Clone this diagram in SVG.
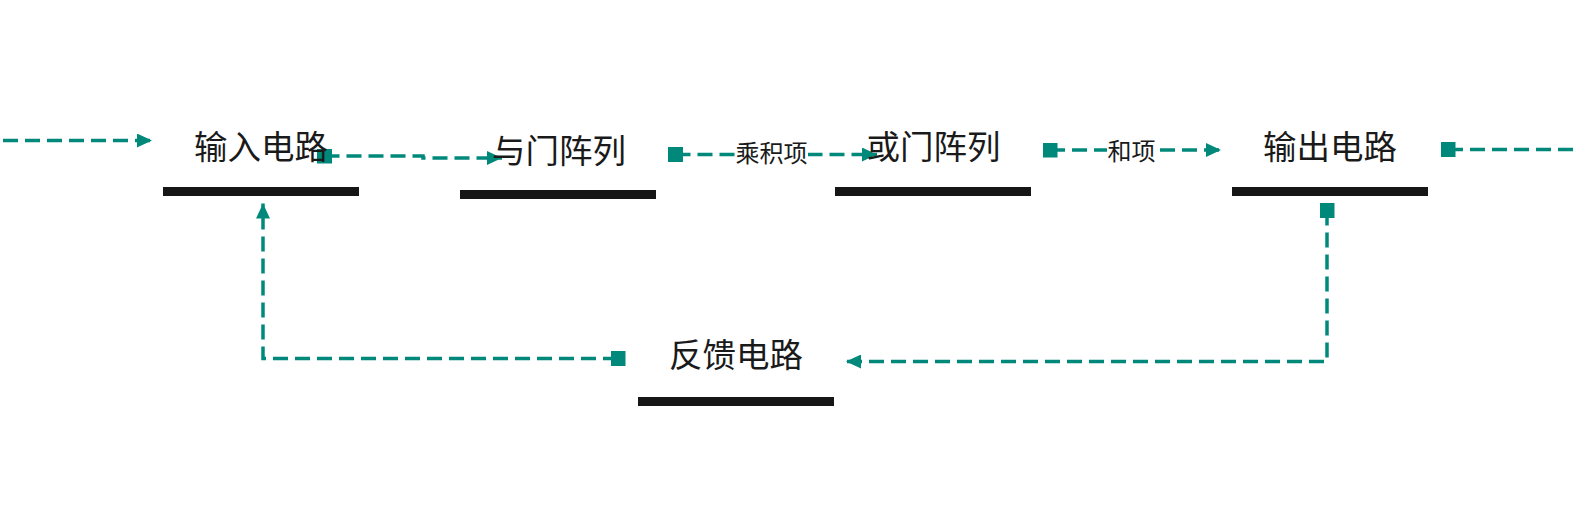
<svg xmlns="http://www.w3.org/2000/svg" width="1579" height="518" viewBox="0 0 1579 518">
<defs>
<style>
.bar{fill:#161616}
.nt{font-family:"Noto Sans CJK SC","Noto Sans",sans-serif;font-size:33.5px;fill:#1a1a1a;text-anchor:middle;dominant-baseline:central}
.et{font-family:"Noto Sans CJK SC","Noto Sans",sans-serif;font-size:24px;fill:#1a1a1a;text-anchor:middle;dominant-baseline:central}
.edge{fill:none;stroke:#00897b;stroke-width:3.5;stroke-dasharray:15 7}
.lbg{fill:#ffffff}
</style>
<marker id="arr" markerUnits="userSpaceOnUse" markerWidth="16" markerHeight="14" refX="15" refY="7" orient="auto">
<path d="M0,0 L15,7 L0,14 Z" fill="#00897b"/>
</marker>
<marker id="sq" markerUnits="userSpaceOnUse" markerWidth="15" markerHeight="15" refX="7.5" refY="7.5" orient="auto">
<rect x="0" y="0" width="15" height="15" fill="#00897b"/>
</marker>
</defs>
<rect width="1579" height="518" fill="#ffffff"/>

<g id="connectors">
<path class="edge" d="M3,140.5 L152,140.5" marker-end="url(#arr)"/>
<path class="edge" d="M324.5,156 L423,156 L423,158 L502,158" marker-start="url(#sq)" marker-end="url(#arr)"/>
<path class="edge" d="M675.5,154.5 L877,154.5" marker-start="url(#sq)" marker-end="url(#arr)"/>
<path class="edge" d="M1050,150 L1221,150" marker-start="url(#sq)" marker-end="url(#arr)"/>
<path class="edge" d="M1448,149.5 L1579,149.5" marker-start="url(#sq)"/>
<path class="edge" d="M1327,210.5 L1327,361.5 L846,361.5" marker-start="url(#sq)" marker-end="url(#arr)"/>
<path class="edge" d="M618,358.5 L263,358.5 L263,203.5" marker-start="url(#sq)" marker-end="url(#arr)"/>
<g id="edge-labels">
<rect class="lbg" x="735" y="140" width="73" height="24"/>
<text class="et" x="771.5" y="151.5">乘积项</text>
<rect class="lbg" x="1107" y="138" width="49" height="24"/>
<text class="et" x="1131.5" y="149.5">和项</text>
</g>
</g>

<g id="node-input">
<text class="nt" x="261" y="144">输入电路</text>
<rect class="bar" x="163" y="187" width="196" height="9"/>
</g>
<g id="node-and">
<text class="nt" x="559" y="148">与门阵列</text>
<rect class="bar" x="460" y="190" width="196" height="9"/>
</g>
<g id="node-or">
<text class="nt" x="933.5" y="144">或门阵列</text>
<rect class="bar" x="835" y="187" width="196" height="9"/>
</g>
<g id="node-output">
<text class="nt" x="1330" y="144">输出电路</text>
<rect class="bar" x="1232" y="187" width="196" height="9"/>
</g>
<g id="node-feedback">
<text class="nt" x="736" y="352.5">反馈电路</text>
<rect class="bar" x="638" y="397" width="196" height="9"/>
</g>
</svg>
